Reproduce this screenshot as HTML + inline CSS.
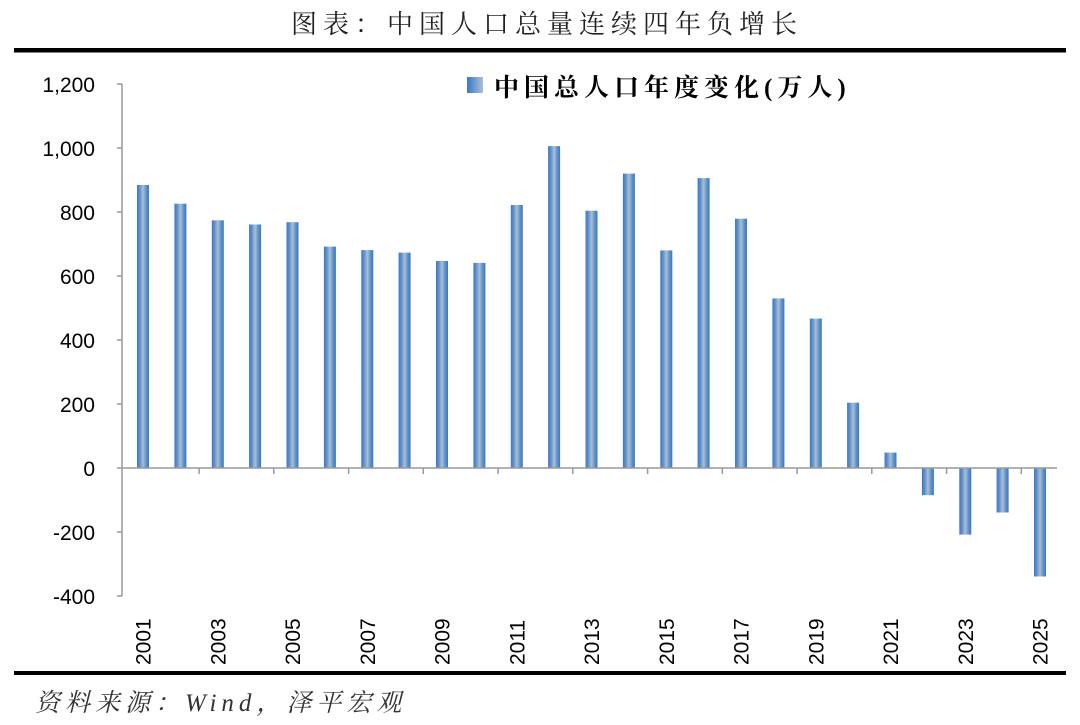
<!DOCTYPE html>
<html><head><meta charset="utf-8"><style>
html,body{margin:0;padding:0;background:#fff;}
svg{display:block;}
</style></head><body>
<svg width="1080" height="725" xmlns="http://www.w3.org/2000/svg">
<defs>
<linearGradient id="g" x1="0" x2="1" y1="0" y2="0">
<stop offset="0" stop-color="#3a78c8"/><stop offset="0.22" stop-color="#5e8fc8"/><stop offset="0.5" stop-color="#a9bfd6"/><stop offset="0.78" stop-color="#5e8fc8"/><stop offset="1" stop-color="#3a78c8"/>
</linearGradient>
<linearGradient id="lg" x1="0" x2="1" y1="0" y2="0">
<stop offset="0" stop-color="#3a78c8"/><stop offset="1" stop-color="#a9bfd6"/>
</linearGradient>
</defs>
<text x="547" y="33" text-anchor="middle" font-family="'Noto Serif CJK SC','Liberation Serif',serif" font-size="26" letter-spacing="6" fill="#222">图表：中国人口总量连续四年负增长</text>
<rect x="14" y="48" width="1052" height="4.5" fill="#000"/>
<rect x="14" y="671" width="1052" height="4" fill="#000"/>
<text x="35" y="711" font-family="'Liberation Serif','Noto Serif CJK SC',serif" font-style="italic" font-size="25" letter-spacing="5" fill="#333">资料来源：Wind，泽平宏观</text>

<g font-family="'Liberation Sans',sans-serif" font-size="21" fill="#000" text-anchor="end">
<text x="95" y="92">1,200</text>
<text x="95" y="156">1,000</text>
<text x="95" y="220">800</text>
<text x="95" y="284">600</text>
<text x="95" y="348">400</text>
<text x="95" y="412">200</text>
<text x="95" y="476">0</text>
<text x="95" y="540">-200</text>
<text x="95" y="604">-400</text>
</g>
<g stroke="#999" stroke-width="1.5">
<line x1="122" y1="84" x2="122" y2="596"/>
<line x1="117" y1="84" x2="122" y2="84"/><line x1="117" y1="148" x2="122" y2="148"/><line x1="117" y1="212" x2="122" y2="212"/><line x1="117" y1="276" x2="122" y2="276"/><line x1="117" y1="340" x2="122" y2="340"/><line x1="117" y1="404" x2="122" y2="404"/><line x1="117" y1="468" x2="122" y2="468"/><line x1="117" y1="532" x2="122" y2="532"/><line x1="117" y1="596" x2="122" y2="596"/>
</g>
<g fill="url(#g)">
<rect x="137" y="185" width="12" height="283"/>
<rect x="174.4" y="203.7" width="12" height="264.3"/>
<rect x="211.8" y="220.3" width="12" height="247.7"/>
<rect x="249.1" y="224.5" width="12" height="243.5"/>
<rect x="286.5" y="222.2" width="12" height="245.8"/>
<rect x="323.9" y="246.6" width="12" height="221.4"/>
<rect x="361.3" y="250.1" width="12" height="217.9"/>
<rect x="398.6" y="252.6" width="12" height="215.4"/>
<rect x="436" y="261" width="12" height="207"/>
<rect x="473.4" y="262.9" width="12" height="205.1"/>
<rect x="510.8" y="205" width="12" height="263"/>
<rect x="548.1" y="146.1" width="12" height="321.9"/>
<rect x="585.5" y="210.7" width="12" height="257.3"/>
<rect x="622.9" y="173.6" width="12" height="294.4"/>
<rect x="660.3" y="250.4" width="12" height="217.6"/>
<rect x="697.6" y="178.1" width="12" height="289.9"/>
<rect x="735" y="218.7" width="12" height="249.3"/>
<rect x="772.4" y="298.4" width="12" height="169.6"/>
<rect x="809.8" y="318.6" width="12" height="149.4"/>
<rect x="847.1" y="402.7" width="12" height="65.3"/>
<rect x="884.5" y="452.6" width="12" height="15.4"/>
<rect x="921.9" y="468" width="12" height="27.2"/>
<rect x="959.3" y="468" width="12" height="66.6"/>
<rect x="996.6" y="468" width="12" height="44.5"/>
<rect x="1034" y="468" width="12" height="108.5"/>
</g>
<g stroke="#999" stroke-width="1.5">
<line x1="122" y1="468" x2="1057" y2="468"/>
<line x1="199.1" y1="468" x2="199.1" y2="474"/><line x1="273.8" y1="468" x2="273.8" y2="474"/><line x1="348.6" y1="468" x2="348.6" y2="474"/><line x1="423.3" y1="468" x2="423.3" y2="474"/><line x1="498.1" y1="468" x2="498.1" y2="474"/><line x1="572.8" y1="468" x2="572.8" y2="474"/><line x1="647.6" y1="468" x2="647.6" y2="474"/><line x1="722.3" y1="468" x2="722.3" y2="474"/><line x1="797.1" y1="468" x2="797.1" y2="474"/><line x1="871.8" y1="468" x2="871.8" y2="474"/><line x1="946.6" y1="468" x2="946.6" y2="474"/><line x1="1021.3" y1="468" x2="1021.3" y2="474"/>
</g>
<g font-family="'Liberation Sans',sans-serif" font-size="21" fill="#000">
<text transform="translate(150.5,665) rotate(-90)">2001</text>
<text transform="translate(225.3,665) rotate(-90)">2003</text>
<text transform="translate(300,665) rotate(-90)">2005</text>
<text transform="translate(374.8,665) rotate(-90)">2007</text>
<text transform="translate(449.5,665) rotate(-90)">2009</text>
<text transform="translate(524.3,665) rotate(-90)">2011</text>
<text transform="translate(599,665) rotate(-90)">2013</text>
<text transform="translate(673.8,665) rotate(-90)">2015</text>
<text transform="translate(748.5,665) rotate(-90)">2017</text>
<text transform="translate(823.3,665) rotate(-90)">2019</text>
<text transform="translate(898,665) rotate(-90)">2021</text>
<text transform="translate(972.8,665) rotate(-90)">2023</text>
<text transform="translate(1047.5,665) rotate(-90)">2025</text>
</g>
<rect x="467" y="77" width="16" height="16" fill="url(#lg)"/>
<text x="494" y="96" font-family="'Liberation Serif','Noto Serif CJK SC',serif" font-weight="bold" font-size="25" letter-spacing="5" fill="#000">中国总人口年度变化(万人)</text>
</svg>
</body></html>
